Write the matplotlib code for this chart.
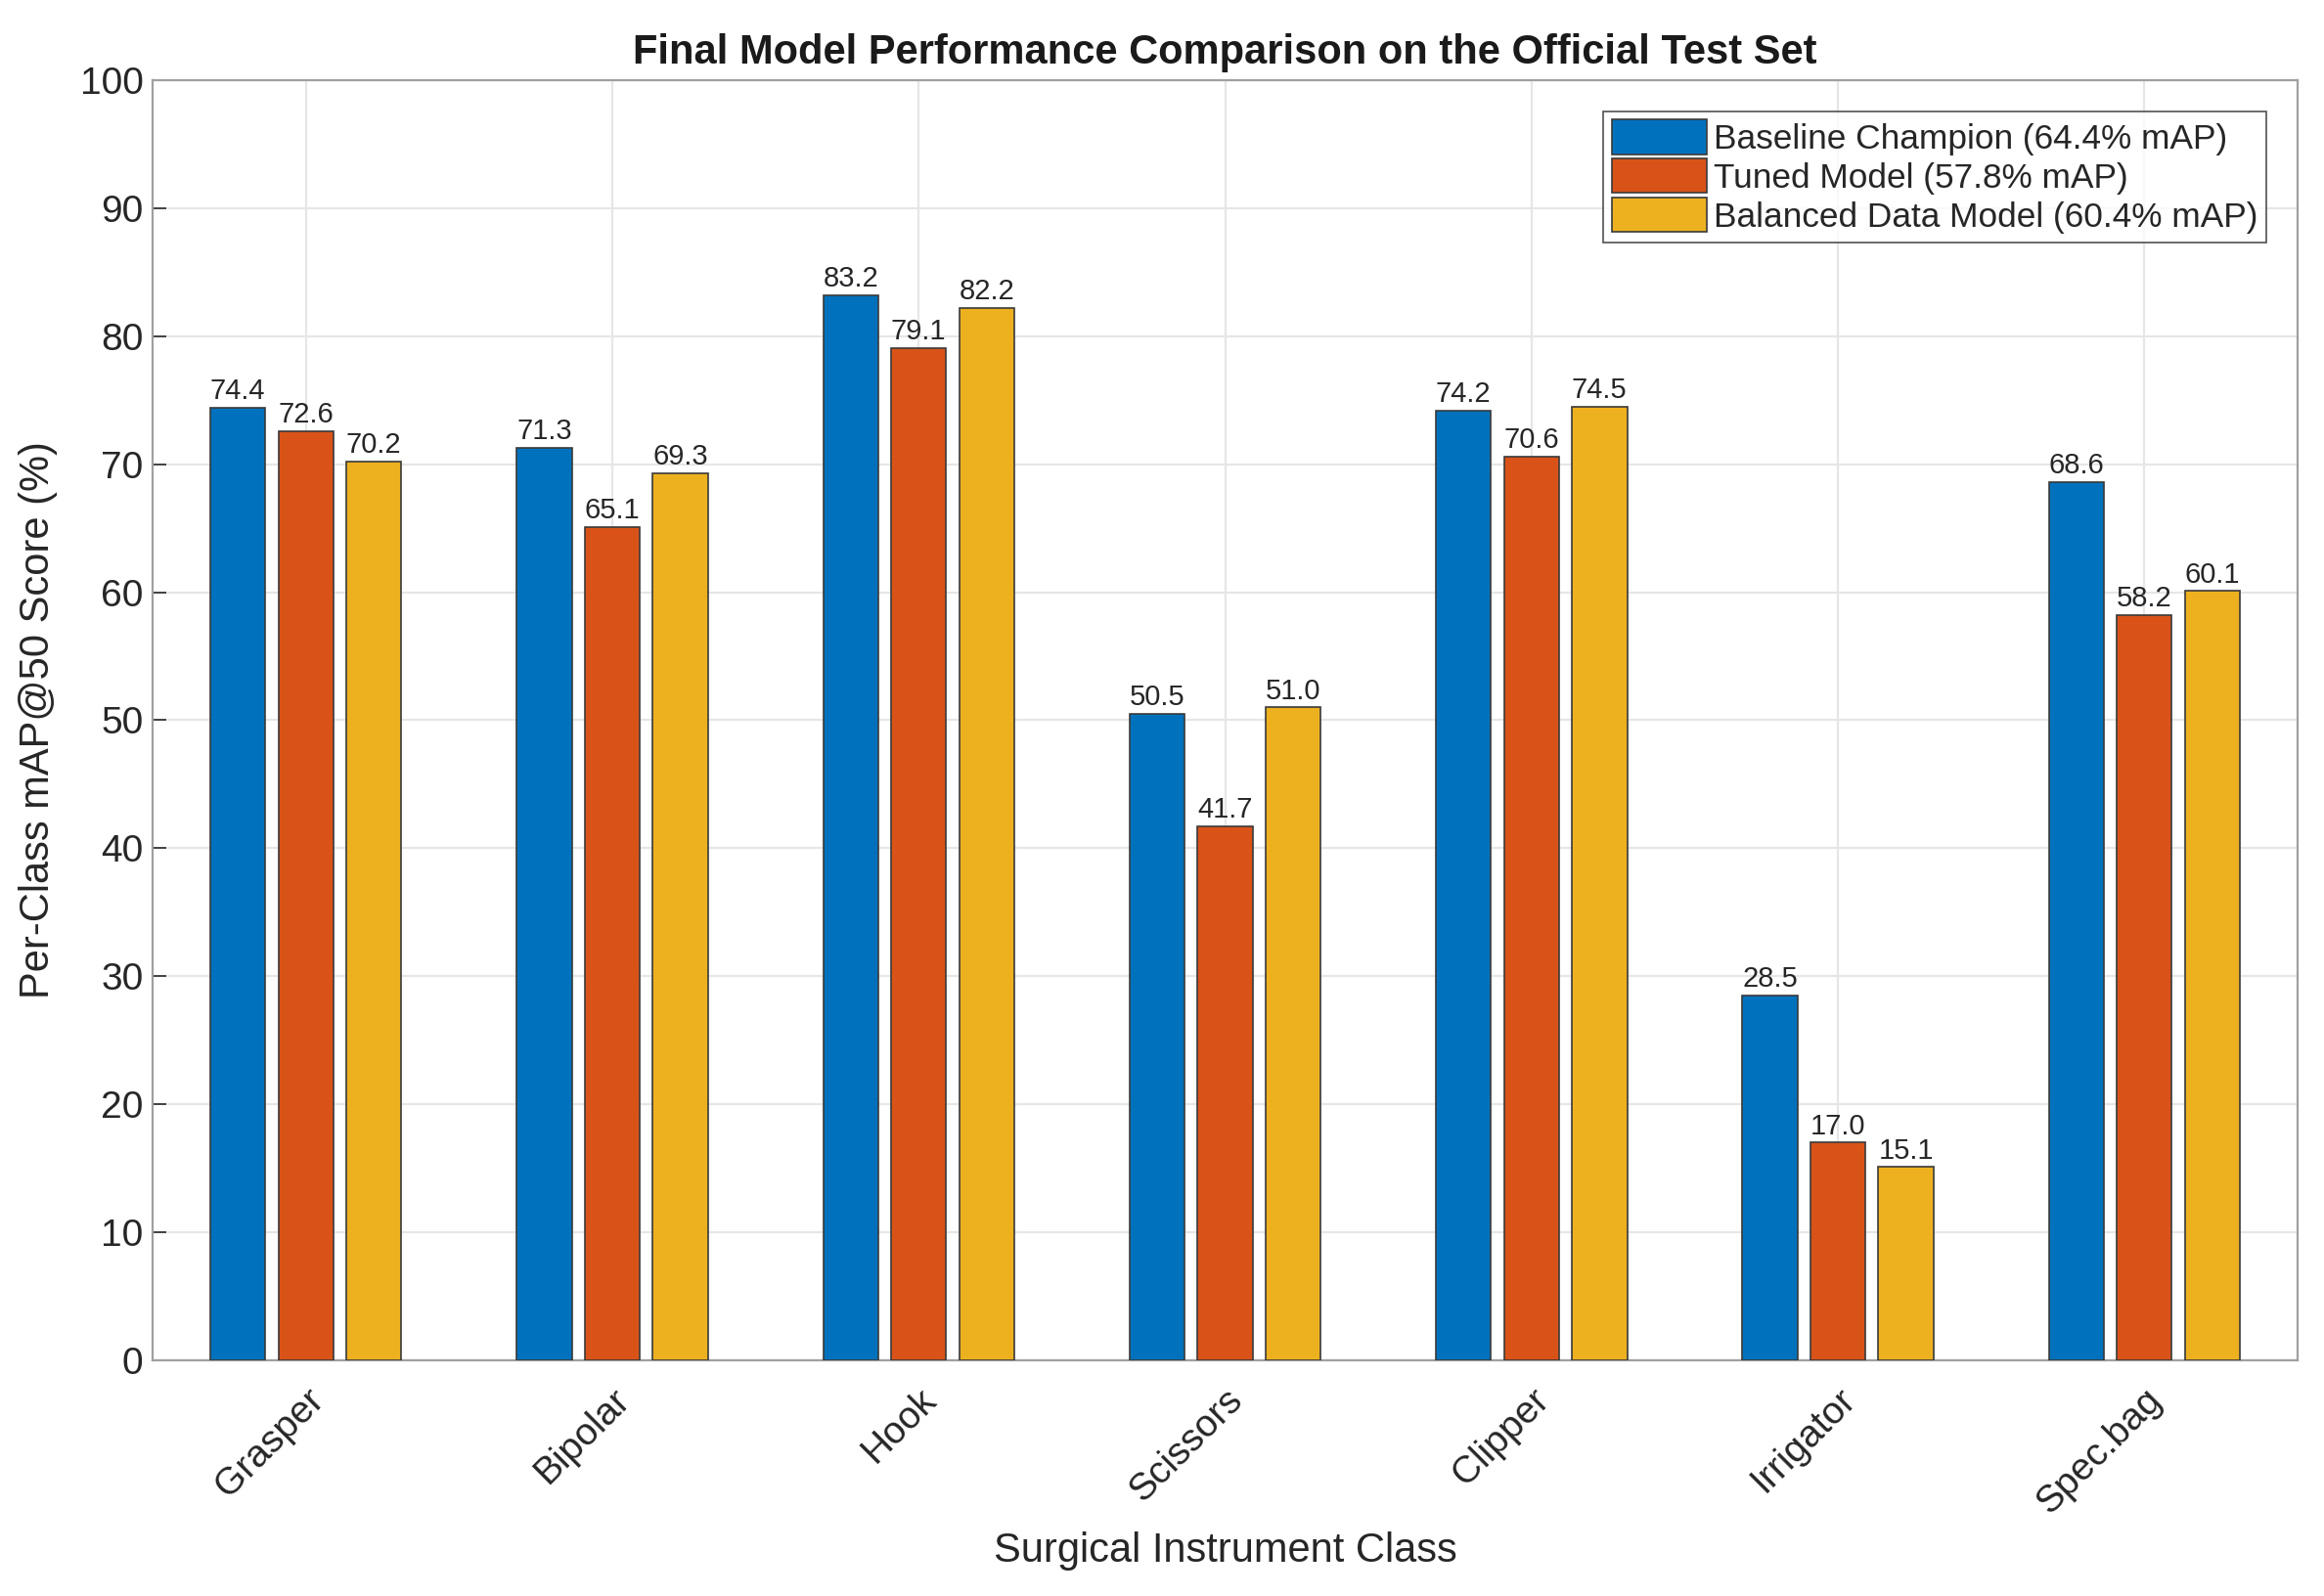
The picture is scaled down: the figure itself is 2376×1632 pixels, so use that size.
import numpy as np
import matplotlib
matplotlib.use('Agg')
import matplotlib.pyplot as plt

plt.rcParams['font.family'] = ['Liberation Sans', 'DejaVu Sans']

# Data
classes = ['Grasper', 'Bipolar', 'Hook', 'Scissors', 'Clipper', 'Irrigator', 'Spec.bag']
baseline = [74.4, 71.3, 83.2, 50.5, 74.2, 28.5, 68.6]
tuned = [72.6, 65.1, 79.1, 41.7, 70.6, 17.0, 58.2]
balanced = [70.2, 69.3, 82.2, 51.0, 74.5, 15.1, 60.1]
series_labels = ['Baseline Champion (64.4% mAP)', 'Tuned Model (57.8% mAP)',
                 'Balanced Data Model (60.4% mAP)']
colors = ['#0072BD', '#D95319', '#EDB120']

fig = plt.figure(figsize=(11.88, 8.16), dpi=200)
ax = fig.add_axes([0.0657, 0.1477, 0.9229, 0.8021])

x = np.arange(1, len(classes) + 1)
width = 0.18
offset = 0.222
for i, (vals, lab, col) in enumerate(zip([baseline, tuned, balanced], series_labels, colors)):
    pos = x + (i - 1) * offset
    ax.bar(pos, vals, width, color=col, edgecolor='#3a3a3a', linewidth=0.6, label=lab, zorder=3)
    for p, v in zip(pos, vals):
        ax.text(p, v + 0.2, f'{v:.1f}', ha='center', va='bottom', fontsize=10.5, color='#262626', zorder=4)

ax.set_xlim(0.5, 7.5)
ax.set_ylim(0, 100)
ax.set_yticks(np.arange(0, 101, 10))
ax.set_xticks(x)
ax.set_xticklabels(classes, rotation=45, ha='right', rotation_mode='anchor', fontsize=14, color='#262626')
ax.tick_params(axis='y', labelsize=14, labelcolor='#262626')
ax.tick_params(direction='in', length=5, color='#262626', width=0.6)
ax.tick_params(axis='x', pad=8)

ax.grid(True, color='#e6e6e6', linewidth=0.8, zorder=0)
ax.set_axisbelow(True)
for s in ax.spines.values():
    s.set_color('#a0a0a0')
    s.set_linewidth(0.8)

ax.set_title('Final Model Performance Comparison on the Official Test Set',
             fontsize=15, fontweight='bold', color='#1a1a1a', pad=6)
ax.set_xlabel('Surgical Instrument Class', fontsize=15, color='#262626', labelpad=4)
ax.set_ylabel('Per-Class mAP@50 Score (%)', fontsize=15, color='#262626', labelpad=8)

leg = ax.legend(loc='upper right', fontsize=12.7, frameon=True, fancybox=False,
                edgecolor='#262626', handlelength=2.75, handleheight=1.15,
                handletextpad=0.2, borderpad=0.25, labelspacing=0.1,
                borderaxespad=0.9)
leg.get_frame().set_linewidth(0.6)
for t in leg.get_texts():
    t.set_color('#262626')

fig.savefig('out.png', dpi=200)
